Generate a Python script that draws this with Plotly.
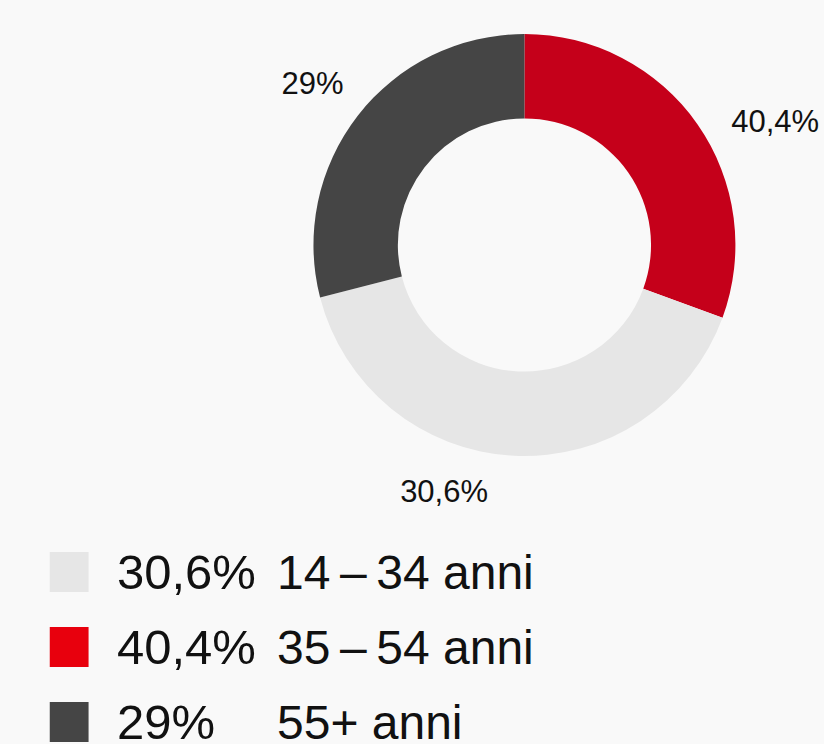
import plotly.graph_objects as go

# Data
slice_names = ["35–54 anni", "14–34 anni", "55+ anni"]
slice_values = [30.6, 40.4, 29.0]
slice_texts = ["40,4%", "30,6%", "29%"]
slice_colors = ["#c5001a", "#e6e6e6", "#454545"]

legend_pcts = ["30,6%", "40,4%", "29%"]
legend_ranges = ["14\u2009\u2013\u200934 anni", "35\u2009\u2013\u200954 anni", "55+ anni"]
legend_colors = ["#e6e6e6", "#e8000d", "#454545"]

W, H = 824, 744
BG = "#f9f9f9"
FONT = "Liberation Sans, Arial, sans-serif"

fig = go.Figure()

# Donut
fig.add_trace(go.Pie(
    labels=slice_names, values=slice_values, text=slice_texts,
    textinfo="none", sort=False, direction="clockwise", rotation=0,
    hole=0.6, marker=dict(colors=slice_colors, line=dict(width=0)),
    domain=dict(x=[315 / W, 739 / W], y=[(H - 457) / H, (H - 33) / H]),
    showlegend=False, hoverinfo="skip",
))
# Transparent ring used only to place outside labels a bit further out
fig.add_trace(go.Pie(
    labels=slice_names, values=slice_values, text=slice_texts,
    textinfo="text", textposition="outside", sort=False, direction="clockwise",
    rotation=4, hole=0.95,
    marker=dict(colors=["rgba(0,0,0,0)"] * 3, line=dict(width=0)),
    outsidetextfont=dict(family=FONT, size=31, color="#111111"),
    domain=dict(x=[(315 - 20) / W, (739 + 20) / W], y=[(H - 457 - 20) / H, (H - 33 + 20) / H]),
    showlegend=False, hoverinfo="skip",
))

# Custom legend
row_y = [572, 647, 722]
shapes = []
annotations = []
for i in range(3):
    y = row_y[i]
    shapes.append(dict(type="rect", xref="paper", yref="paper",
                       x0=50 / W, x1=89 / W, y0=1 - (y + 20) / H, y1=1 - (y - 20) / H,
                       fillcolor=legend_colors[i], line=dict(width=0), layer="above"))
    annotations.append(dict(text=legend_pcts[i], xref="paper", yref="paper",
                            x=116 / W, y=1 - y / H, xanchor="left", yanchor="middle",
                            showarrow=False, font=dict(family=FONT, size=49, color="#111111")))
    annotations.append(dict(text=legend_ranges[i], xref="paper", yref="paper",
                            x=276 / W, y=1 - y / H, xanchor="left", yanchor="middle",
                            showarrow=False, font=dict(family=FONT, size=48, color="#111111")))

fig.update_layout(
    width=W, height=H, margin=dict(l=0, r=0, t=0, b=0),
    paper_bgcolor=BG, plot_bgcolor=BG,
    shapes=shapes, annotations=annotations,
)

fig.write_html("out.html", config={"displayModeBar": False},
               post_script="document.body.style.margin='0';document.body.style.overflow='hidden';")
